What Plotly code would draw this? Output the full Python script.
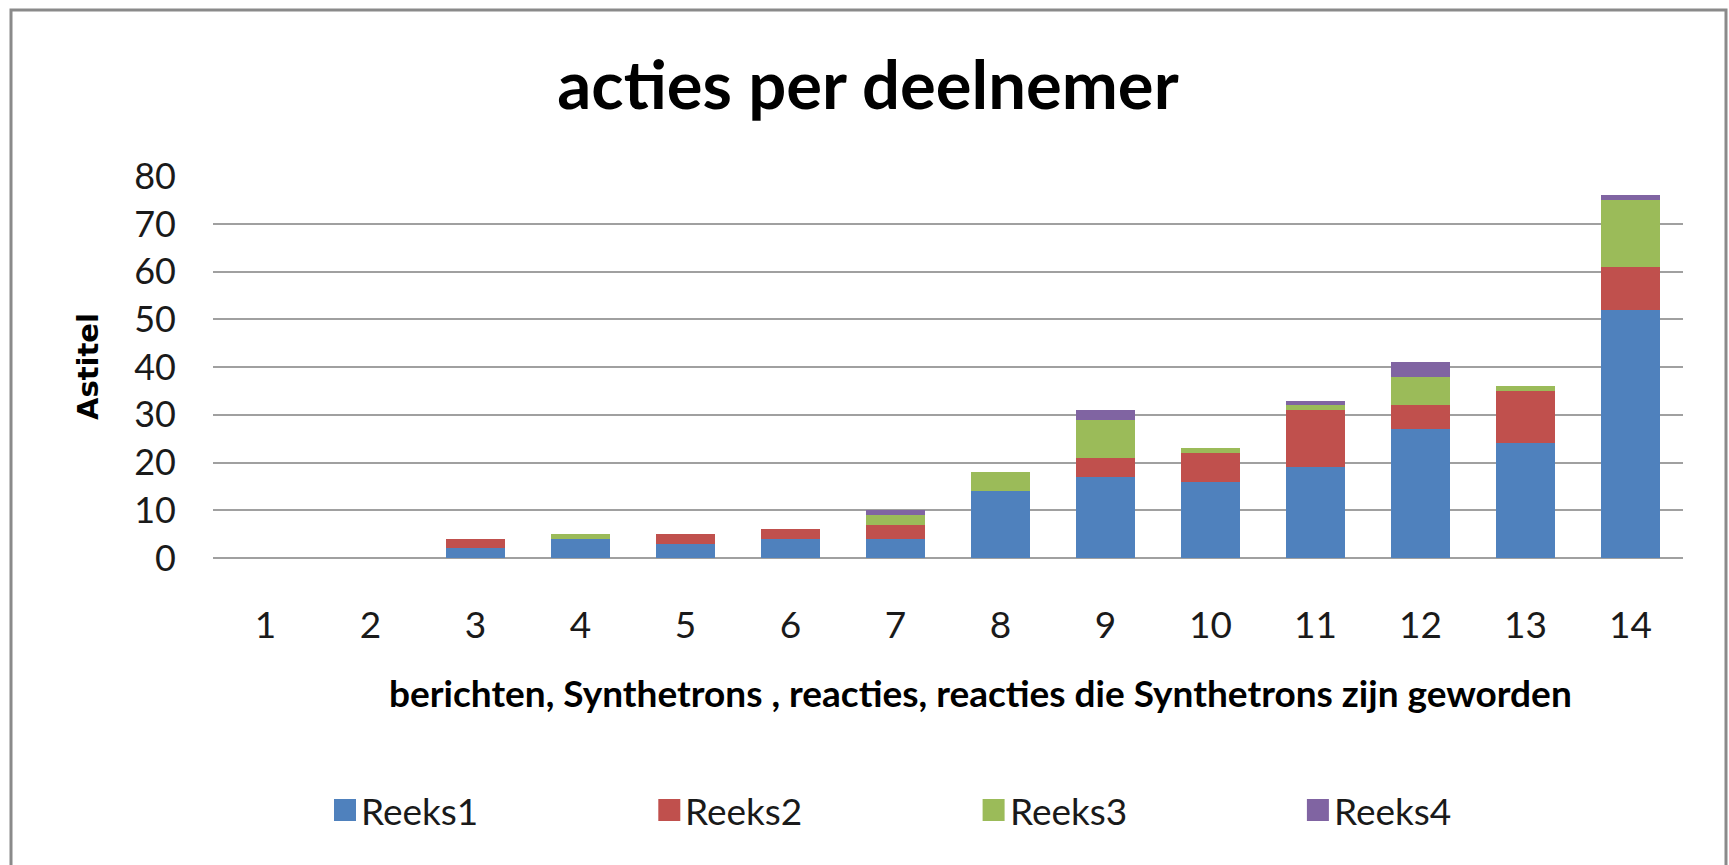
import plotly.graph_objects as go

categories = [str(i) for i in range(1, 15)]
reeks1 = [0, 0, 2, 4, 3, 4, 4, 14, 17, 16, 19, 27, 24, 52]
reeks2 = [0, 0, 2, 0, 2, 2, 3, 0, 4, 6, 12, 5, 11, 9]
reeks3 = [0, 0, 0, 1, 0, 0, 2, 4, 8, 1, 1, 6, 1, 14]
reeks4 = [0, 0, 0, 0, 0, 0, 1, 0, 2, 0, 1, 3, 0, 1]
series_names = ["Reeks1", "Reeks2", "Reeks3", "Reeks4"]
series_values = [reeks1, reeks2, reeks3, reeks4]
colors = ["#4F81BD", "#C0504D", "#9BBB59", "#8064A2"]
y_ticks = [0, 10, 20, 30, 40, 50, 60, 70, 80]

W, H = 1729, 865
L, R, T, B = 213, 1683, 176, 558  # plot area in pixels


def px(x):
    return (x - L) / (R - L)


def py(y):
    return (B - y) / (B - T)


fig = go.Figure()
for name, vals, col in zip(series_names, series_values, colors):
    fig.add_trace(go.Bar(x=categories, y=vals, name=name,
                         marker=dict(color=col, line=dict(width=0)),
                         showlegend=False))

fig.update_layout(
    width=W, height=H,
    barmode="stack", bargap=0.43,
    margin=dict(l=L, r=W - R, t=T, b=H - B, autoexpand=False),
    paper_bgcolor="white", plot_bgcolor="white",
    font=dict(family="Lato, sans-serif", color="#1a1a1a"),
    title=dict(text="<b>acties per deelnemer</b>", x=868 / W, xanchor="center",
               y=1 - 86 / H, yanchor="middle",
               font=dict(family="Lato, sans-serif", size=67, color="#000")),
    xaxis=dict(type="category", showgrid=False, showline=False, ticks="",
               tickfont=dict(size=37, color="#1a1a1a"), ticklabelstandoff=42,
               zeroline=False),
    yaxis=dict(range=[0, 80.05], tickvals=y_ticks, showgrid=True,
               gridcolor="#a0a0a0", gridwidth=2, zeroline=True,
               zerolinecolor="#a0a0a0", zerolinewidth=2, ticks="",
               tickfont=dict(size=36, color="#1a1a1a"), ticklabelstandoff=36,
               showline=False),
)

shapes = [dict(type="rect", xref="paper", yref="paper",
               x0=px(11), x1=px(1726), y0=py(880), y1=py(10),
               line=dict(color="#8a8a8a", width=3), fillcolor="rgba(0,0,0,0)",
               layer="below")]
annotations = [
    dict(text="<b>berichten, Synthetrons , reacties, reacties die Synthetrons zijn geworden</b>",
         xref="paper", yref="paper", x=px(980), y=py(692), showarrow=False,
         xanchor="center", yanchor="middle",
         font=dict(family="Lato, sans-serif", size=37, color="#000")),
    dict(text="<b>Astitel</b>", xref="paper", yref="paper", x=px(88), y=py(367),
         showarrow=False, textangle=-90, xanchor="center", yanchor="middle",
         font=dict(family="DejaVu Sans, sans-serif", size=29, color="#000")),
]

leg_y = 810
for i, (name, col) in enumerate(zip(series_names, colors)):
    x0 = 334 + i * 324.3
    shapes.append(dict(type="rect", xref="paper", yref="paper",
                       x0=px(x0), x1=px(x0 + 22), y0=py(leg_y + 11), y1=py(leg_y - 11),
                       line=dict(width=0), fillcolor=col))
    annotations.append(dict(text=name, xref="paper", yref="paper",
                            x=px(x0 + 25), y=py(leg_y), showarrow=False,
                            xanchor="left", yanchor="middle",
                            font=dict(family="Lato, sans-serif", size=37, color="#1a1a1a")))

fig.update_layout(shapes=shapes, annotations=annotations)
fig.write_html("out.html", config={"displayModeBar": False},
               post_script="document.body.style.margin='0';document.body.style.overflow='hidden';")
